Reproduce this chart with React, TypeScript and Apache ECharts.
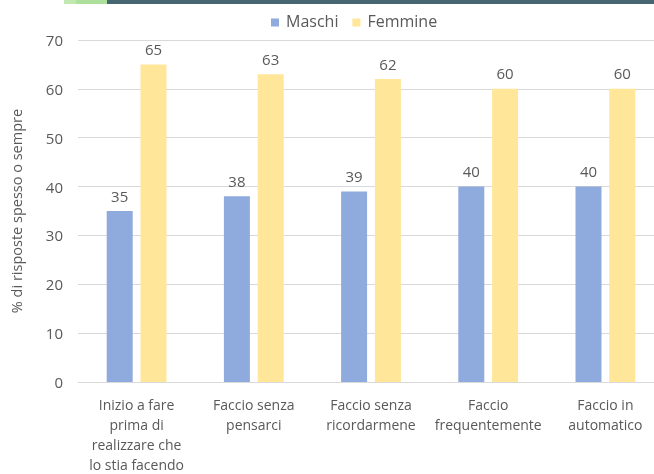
import React, { useEffect, useRef } from "react";
import * as echarts from "echarts";

const categories = [
  "Inizio a fare\nprima di\nrealizzare che\nlo stia facendo",
  "Faccio senza\npensarci",
  "Faccio senza\nricordarmene",
  "Faccio\nfrequentemente",
  "Faccio in\nautomatico",
];
const maschi = [35, 38, 39, 40, 40];
const femmine = [65, 63, 62, 60, 60];
const seriesNames = ["Maschi", "Femmine"];
const yTicks = { min: 0, max: 70, interval: 10 };
const yAxisName = "% di risposte spesso o sempre";

const FONT = "'Open Sans', 'DejaVu Sans', sans-serif";
const TXT = "#595959";
const LEGEND_ICON = "path://M0,0h0.01v0.01h-0.01zM0,3h8v8h-8z";

export default function App() {
  const ref = useRef<HTMLDivElement>(null);
  useEffect(() => {
    if (!ref.current) return;
    const chart = echarts.init(ref.current, null, { renderer: "svg" });
    chart.setOption({
      animation: false,
      textStyle: { fontFamily: FONT, color: TXT },
      graphic: [
        { type: "rect", shape: { x: 64, y: 0, width: 12, height: 4 }, style: { fill: "#c2e8b2" } },
        { type: "rect", shape: { x: 76, y: 0, width: 31, height: 4 }, style: { fill: "#ade09c" } },
        { type: "rect", shape: { x: 107, y: 0, width: 547, height: 4 }, style: { fill: "#466771" } },
      ],
      legend: {
        data: seriesNames,
        left: 266,
        top: 8,
        itemWidth: 8,
        itemHeight: 11,
        itemGap: 14,
        icon: LEGEND_ICON,
        textStyle: { fontFamily: FONT, fontSize: 16, color: TXT, padding: [0, 0, 0, 2] },
      },
      grid: { left: 78, right: -10, top: 40, bottom: 92, containLabel: false, outerBoundsMode: "none" },
      xAxis: {
        type: "category",
        data: categories,
        axisLine: { show: true, lineStyle: { color: "#d9d9d9", width: 1 } },
        axisTick: { show: false },
        axisLabel: {
          interval: 0,
          margin: 12,
          fontFamily: FONT,
          fontSize: 14,
          lineHeight: 20,
          color: TXT,
        },
      },
      yAxis: {
        type: "value",
        min: yTicks.min,
        max: yTicks.max,
        interval: yTicks.interval,
        name: yAxisName,
        nameLocation: "middle",
        nameGap: 54,
        nameTextStyle: { fontFamily: FONT, fontSize: 14.5, color: TXT },
        axisLine: { show: false },
        axisTick: { show: false },
        axisLabel: { margin: 15, fontFamily: FONT, fontSize: 15, color: TXT },
        splitLine: { lineStyle: { color: "#d9d9d9", width: 1 } },
      },
      series: [
        {
          name: seriesNames[0],
          type: "bar",
          data: maschi,
          barWidth: 26,
          barGap: "30%",
          itemStyle: { color: "#8faadc" },
          label: { show: true, position: "top", distance: 8, fontFamily: FONT, fontSize: 15, color: TXT },
        },
        {
          name: seriesNames[1],
          type: "bar",
          data: femmine,
          barWidth: 26,
          barGap: "30%",
          itemStyle: { color: "#ffe699" },
          label: { show: true, position: "top", distance: 8, fontFamily: FONT, fontSize: 15, color: TXT },
        },
      ],
    });
    return () => chart.dispose();
  }, []);
  return <div ref={ref} style={{ width: 654, height: 474, position: "fixed", left: 0, top: 0 }} />;
}
